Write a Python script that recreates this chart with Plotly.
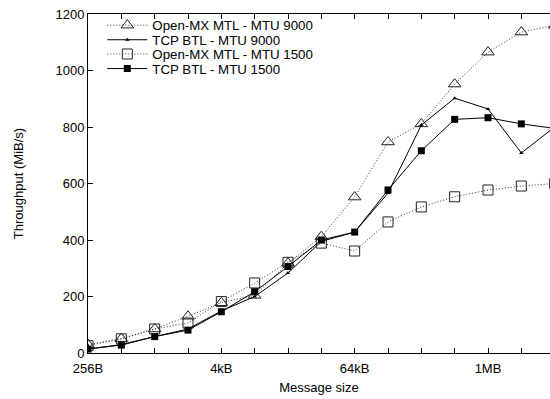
import plotly.graph_objects as go
import math

sizes = [2**k for k in range(8, 23)]  # 256B .. 4MB

omx_9000 = [30, 51, 85, 130, 178, 204, 318, 412, 552, 747, 811, 952, 1065, 1136, 1160]
tcp_9000 = [14, 30, 58, 85, 149, 200, 283, 395, 428, 566, 807, 902, 864, 708, 800]
omx_1500 = [26, 50, 85, 106, 182, 248, 321, 389, 361, 464, 517, 553, 577, 591, 600]
tcp_1500 = [14, 28, 58, 81, 146, 217, 306, 400, 428, 577, 716, 827, 833, 811, 795]

tick_vals = [2**k for k in range(8, 23)]
tick_text = ["256B" if v == 256 else "4kB" if v == 4096 else "64kB" if v == 65536
             else "1MB" if v == 1048576 else "" for v in tick_vals]

FONT = "Liberation Sans, Arial, Helvetica, sans-serif"
DOT = "1px,2px"

fig = go.Figure()
fig.add_trace(go.Scatter(x=sizes, y=omx_9000, name="Open-MX MTL - MTU 9000",
                         mode="lines+markers", legend="legend",
                         line=dict(color="#333", width=1, dash=DOT),
                         marker=dict(symbol="triangle-up-open", size=11, color="#222",
                                     line=dict(width=1))))
fig.add_trace(go.Scatter(x=sizes, y=tcp_9000, name="TCP BTL - MTU 9000",
                         mode="lines+markers", legend="legend2",
                         line=dict(color="black", width=1),
                         marker=dict(symbol="triangle-up", size=4, color="black")))
fig.add_trace(go.Scatter(x=sizes, y=omx_1500, name="Open-MX MTL - MTU 1500",
                         mode="lines+markers", legend="legend3",
                         line=dict(color="#333", width=1, dash=DOT),
                         marker=dict(symbol="square-open", size=10, color="#222",
                                     line=dict(width=1))))
fig.add_trace(go.Scatter(x=sizes, y=tcp_1500, name="TCP BTL - MTU 1500",
                         mode="lines+markers", legend="legend4",
                         line=dict(color="black", width=1),
                         marker=dict(symbol="square", size=7, color="black")))

def leg(yc):
    return dict(x=0.031, y=yc, xanchor="left", yanchor="middle",
                bgcolor="rgba(0,0,0,0)", font=dict(size=13.3, color="black"),
                itemwidth=40, borderwidth=0)

fig.update_layout(
    width=550, height=399,
    margin=dict(l=88, r=0, t=14, b=46),
    paper_bgcolor="white", plot_bgcolor="white",
    font=dict(family=FONT, size=13, color="black"),
    showlegend=True,
    legend=leg(0.966), legend2=leg(0.923), legend3=leg(0.881), legend4=leg(0.838),
)
fig.update_xaxes(type="log", range=[math.log10(256), math.log10(2**21.86)],
                 tickvals=tick_vals, ticktext=tick_text,
                 ticks="inside", ticklen=5, tickcolor="black",
                 showline=True, linecolor="black", linewidth=1, mirror="ticks",
                 showgrid=False, zeroline=False, automargin=False,
                 tickfont=dict(size=13), ticklabelstandoff=3,
                 title=dict(text="Message size", standoff=8, font=dict(size=13)))
fig.update_yaxes(range=[0, 1200], tickvals=[0, 200, 400, 600, 800, 1000, 1200],
                 ticks="inside", ticklen=5, tickcolor="black",
                 showline=True, linecolor="black", linewidth=1, mirror=False,
                 showgrid=False, zeroline=False, automargin=False,
                 tickfont=dict(size=13),
                 title=dict(text="Throughput (MiB/s)", standoff=28, font=dict(size=13)))

fig.write_html("out.html", config={"displayModeBar": False},
               post_script="document.body.style.margin='0';")
